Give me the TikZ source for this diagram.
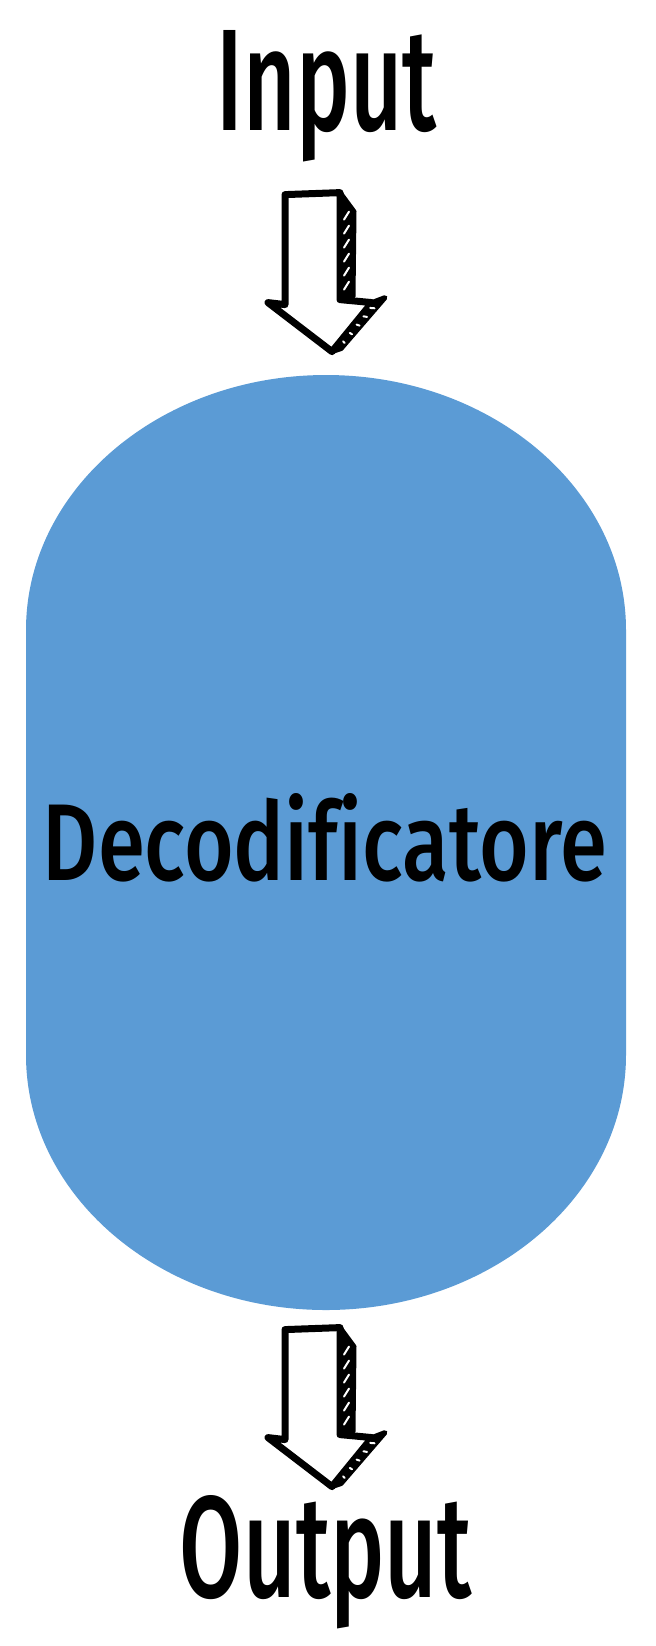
\documentclass[tikz,border=0pt]{standalone}
\usepackage{fontspec}
\setmainfont{Fira Sans}
\newfontfamily\sketchfont{Fira Sans Medium}[Ligatures=NoCommon]
\usetikzlibrary{calc}
\definecolor{decblue}{HTML}{5B9BD5}
\tikzset{sketcharrow/.pic={
    \draw[line width=3.5pt, line join=round, fill=white]
        (-47,-157) -- (8,-159) -- (8,-52) -- (40,-49) -- (0,0) -- (-64,-49) -- (-47,-47) -- cycle;
    \draw[line width=2.5pt, line join=round, fill=black]
        (8,-159) -- (22,-140) -- (21,-55) -- (8,-52) -- cycle;
    \draw[line width=2.5pt, line join=round, fill=black]
        (40,-49) -- (53,-54) -- (9,-3) -- (0,0) -- cycle;
    \foreach \y in {-132,-118,...,-62}
        \draw[white, line width=1pt, line cap=round] (12,\y) -- (17,\y-8);
    \foreach \t in {0.15,0.32,0.49,0.66,0.83}
        \draw[white, line width=1pt, line cap=round]
            ($(0,0)!\t!(40,-49)+(5,-3)$) -- ($(9,-3)!\t!(53,-54)+(-3,2)$);
}}
\begin{document}
\begin{tikzpicture}[x=0.5pt, y=-0.5pt]
    \tikzstyle{lbl}=[inner sep=0pt, font=\sketchfont]
    \tikzstyle{decbody}=[inner sep=0pt, minimum width=300pt, minimum height=467.5pt]

    \useasboundingbox (0,0) rectangle (656,1646);

    \fill[decblue] (26,630) -- (26,1055) arc[start angle=180, end angle=0, x radius=300, y radius=255]
        -- (626,630) arc[start angle=0, end angle=-180, x radius=300, y radius=255] -- cycle;

    \node[decbody] (dec) at (326,842.5) {};
    \node[lbl, anchor=base] (label) at (325,880) {\resizebox{282pt}{43.5pt}{Decodificatore}};
    \node[lbl, anchor=base] (in) at (327,130) {\resizebox{110pt}{50pt}{Input}};
    \node[lbl, anchor=base] (out) at (326,1597) {\resizebox{146pt}{51pt}{Output}};

    \pic at ($(dec.north)+(6,-23)$) {sketcharrow};
    \pic at ($(out.north)+(6,-8)$) {sketcharrow};
\end{tikzpicture}
\end{document}
